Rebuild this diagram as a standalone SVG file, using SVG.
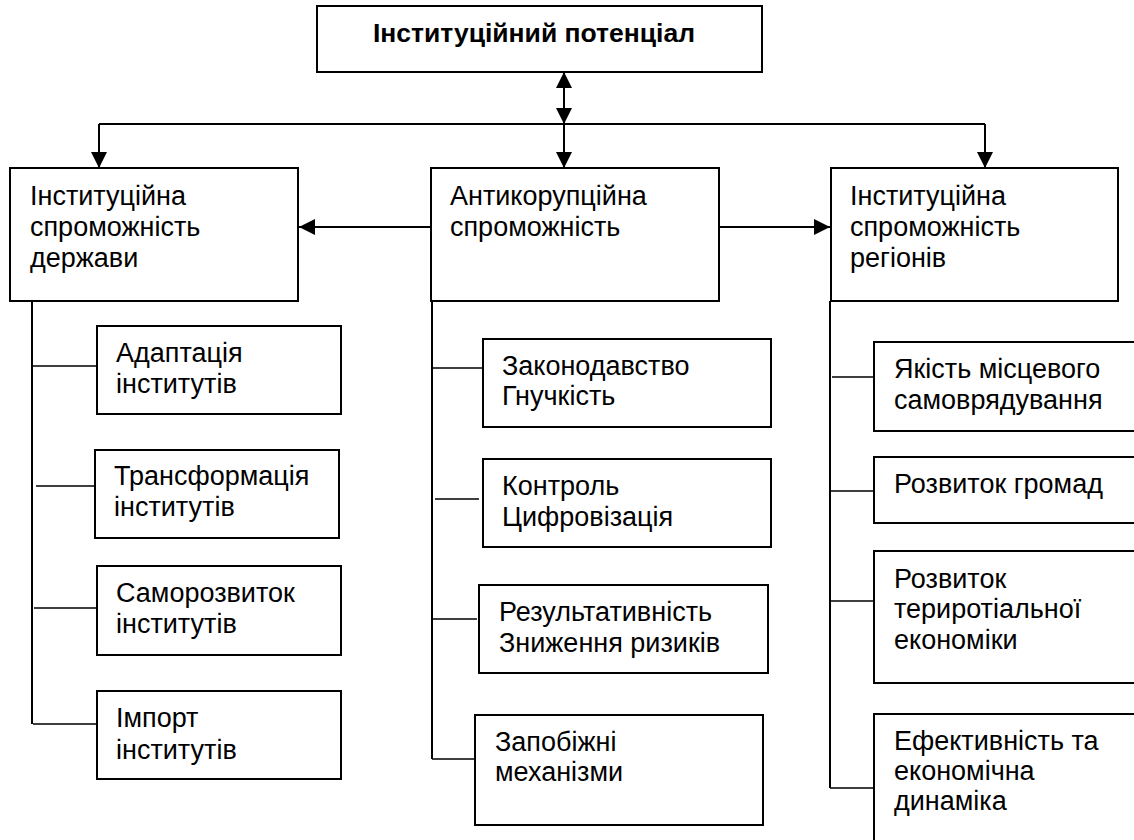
<svg xmlns="http://www.w3.org/2000/svg" width="1134" height="840" viewBox="0 0 1134 840">
<defs>
<marker id="ah" markerUnits="userSpaceOnUse" markerWidth="16" markerHeight="16" viewBox="0 0 14 14" refX="14" refY="7" orient="auto-start-reverse">
<path d="M0,0 L14,7 L0,14 Z" fill="#000"/>
</marker>
</defs>
<style>
rect.b{fill:#fff;stroke:#000;stroke-width:2}
text{font-family:"Liberation Sans",Arial,sans-serif;font-size:27px;fill:#000}
text.t{font-weight:bold;font-size:26.5px}
.c{fill:none;stroke:#000;stroke-width:2}
.s{fill:none;stroke:#000;stroke-width:1.6}
</style>
<rect width="1134" height="840" fill="#fff"/>
<g id="connectors">
<path class="c" d="M564,72 L564,124" marker-start="url(#ah)" marker-end="url(#ah)"/>
<path class="c" d="M99,124 L985,124"/>
<path class="c" d="M564,124 L564,168" marker-end="url(#ah)"/>
<path class="c" d="M99,124 L99,168" marker-end="url(#ah)"/>
<path class="c" d="M985,124 L985,168" marker-end="url(#ah)"/>
<path class="c" d="M431,227 L299,227" marker-end="url(#ah)"/>
<path class="c" d="M719,227 L830,227" marker-end="url(#ah)"/>
<path class="c" d="M32,302 L32,724"/>
<path class="s" d="M32,366 L99,366 M36,486 L102,486 M34,608 L100,608 M33,724 L99,724"/>
<path class="c" d="M432,301 L432,759"/>
<path class="s" d="M432,368 L484,368 M435,499 L479,499 M433,619 L477,619 M432,759 L475,759"/>
<path class="c" d="M830,301 L830,788"/>
<path class="s" d="M832,377 L876,377 M830,491 L874,491 M830,601 L874,601 M830,788 L874,788"/>
</g>
<g id="n-top">
<rect class="b" x="317" y="6" width="445" height="66"/>
<text class="t" x="534" y="42" text-anchor="middle">Інституційний потенціал</text>
</g>
<g id="n-state">
<rect class="b" x="10" y="168" width="288" height="133"/>
<text x="30" y="205">Інституційна</text>
<text x="30" y="236">спроможність</text>
<text x="30" y="267">держави</text>
</g>
<g id="n-anti">
<rect class="b" x="431" y="168" width="288" height="133"/>
<text x="450" y="205">Антикорупційна</text>
<text x="450" y="236">спроможність</text>
</g>
<g id="n-regions">
<rect class="b" x="831" y="168" width="287" height="133"/>
<text x="850" y="205">Інституційна</text>
<text x="850" y="236">спроможність</text>
<text x="850" y="267">регіонів</text>
</g>
<g id="n-adapt">
<rect class="b" x="97" y="326" width="244" height="88"/>
<text x="116" y="362">Адаптація</text>
<text x="116" y="393">інститутів</text>
</g>
<g id="n-transform">
<rect class="b" x="95" y="450" width="244" height="88"/>
<text x="114" y="485">Трансформація</text>
<text x="114" y="516">інститутів</text>
</g>
<g id="n-selfdev">
<rect class="b" x="97" y="566" width="244" height="89"/>
<text x="116" y="602">Саморозвиток</text>
<text x="116" y="633">інститутів</text>
</g>
<g id="n-import">
<rect class="b" x="97" y="691" width="244" height="88"/>
<text x="116" y="727">Імпорт</text>
<text x="116" y="759">інститутів</text>
</g>
<g id="n-law">
<rect class="b" x="483" y="339" width="288" height="88"/>
<text x="502" y="375">Законодавство</text>
<text x="502" y="405">Гнучкість</text>
</g>
<g id="n-control">
<rect class="b" x="483" y="459" width="288" height="88"/>
<text x="502" y="495">Контроль</text>
<text x="502" y="526">Цифровізація</text>
</g>
<g id="n-result">
<rect class="b" x="479" y="585" width="289" height="88"/>
<text x="499" y="621">Результативність</text>
<text x="499" y="652">Зниження ризиків</text>
</g>
<g id="n-prevent">
<rect class="b" x="475" y="715" width="288" height="110"/>
<text x="495" y="751">Запобіжні</text>
<text x="495" y="781">механізми</text>
</g>
<g id="n-quality">
<rect class="b" x="874" y="342" width="280" height="89"/>
<text x="894" y="378">Якість місцевого</text>
<text x="894" y="409">самоврядування</text>
</g>
<g id="n-communities">
<rect class="b" x="874" y="457" width="280" height="66"/>
<text x="894" y="493">Розвиток громад</text>
</g>
<g id="n-territorial">
<rect class="b" x="874" y="551" width="280" height="132"/>
<text x="894" y="588">Розвиток</text>
<text x="894" y="618">териротіальної</text>
<text x="894" y="649">економіки</text>
</g>
<g id="n-efficiency">
<rect class="b" x="874" y="714" width="280" height="160"/>
<text x="894" y="750">Ефективність та</text>
<text x="894" y="780">економічна</text>
<text x="894" y="810">динаміка</text>
</g>
</svg>
